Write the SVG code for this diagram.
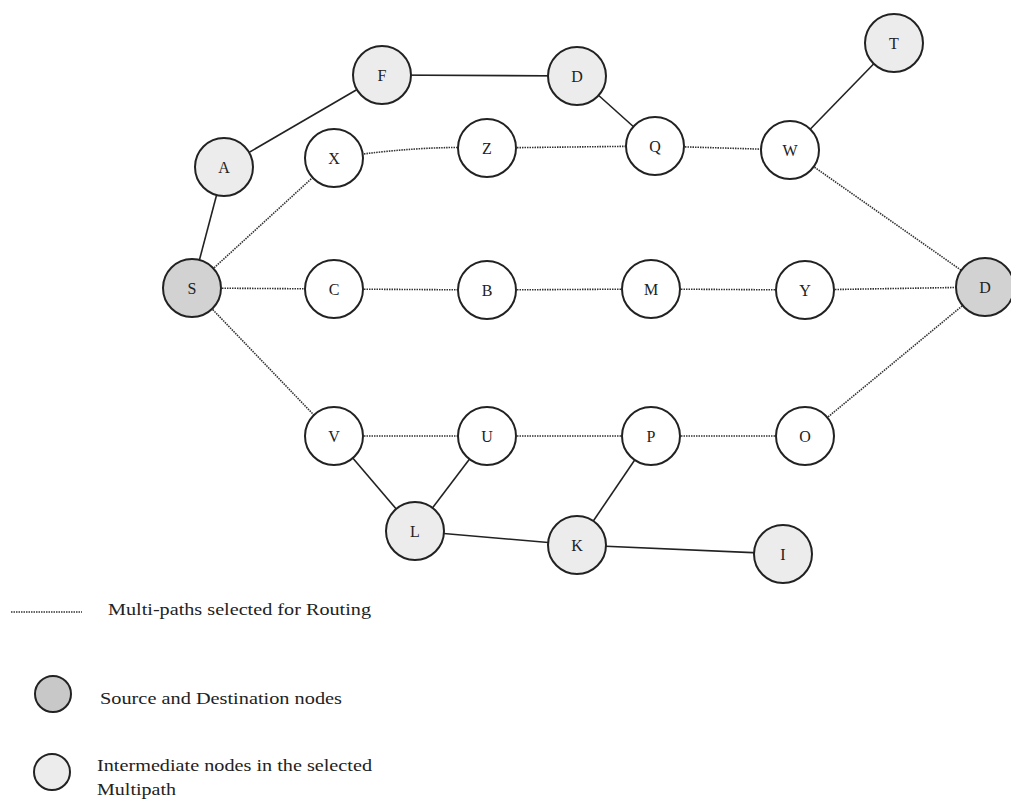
<svg xmlns="http://www.w3.org/2000/svg" width="1011" height="799" viewBox="0 0 1011 799">
<style>
.n circle{stroke:#222;stroke-width:2}
.src{fill:#d2d2d2}
.oth{fill:#ececec}
.mid{fill:#ffffff}
.lbl{font-family:"Liberation Serif",serif;font-size:16px;fill:#222;text-anchor:middle;dominant-baseline:central}
.solid{stroke:#222;stroke-width:1.6;fill:none}
.dot{stroke:#333;stroke-width:1.6;stroke-dasharray:1.5 1;fill:none}
.leg{font-family:"Liberation Serif",serif;font-size:17px;fill:#222}
</style>
<rect width="1011" height="799" fill="#fff"/>
<g id="connectors">
<line class="solid" x1="224" y1="167" x2="382" y2="75"/>
<line class="solid" x1="382" y1="75" x2="577" y2="76"/>
<line class="solid" x1="577" y1="76" x2="655" y2="146"/>
<line class="solid" x1="894" y1="43" x2="790" y2="150"/>
<line class="solid" x1="192" y1="288" x2="224" y2="167"/>
<line class="solid" x1="334" y1="436" x2="415" y2="531"/>
<line class="solid" x1="415" y1="531" x2="487" y2="436"/>
<line class="solid" x1="415" y1="531" x2="577" y2="545"/>
<line class="solid" x1="577" y1="545" x2="651" y2="436"/>
<line class="solid" x1="577" y1="545" x2="783" y2="554"/>
<line class="dot" x1="192" y1="288" x2="334" y2="158"/>
<path class="dot" d="M334,158 Q420,145 487,148"/>
<line class="dot" x1="487" y1="148" x2="655" y2="146"/>
<line class="dot" x1="655" y1="146" x2="790" y2="150"/>
<line class="dot" x1="790" y1="150" x2="985" y2="287"/>
<line class="dot" x1="192" y1="288" x2="334" y2="289"/>
<line class="dot" x1="334" y1="289" x2="487" y2="290"/>
<line class="dot" x1="487" y1="290" x2="651" y2="289"/>
<line class="dot" x1="651" y1="289" x2="805" y2="290"/>
<line class="dot" x1="805" y1="290" x2="985" y2="287"/>
<line class="dot" x1="192" y1="288" x2="334" y2="436"/>
<line class="dot" x1="334" y1="436" x2="487" y2="436"/>
<line class="dot" x1="487" y1="436" x2="651" y2="436"/>
<line class="dot" x1="651" y1="436" x2="805" y2="436"/>
<line class="dot" x1="805" y1="436" x2="985" y2="287"/>
</g>
<g id="node-T" class="n"><circle class="oth" cx="894" cy="43" r="29"/><text class="lbl" x="894" y="43">T</text></g>
<g id="node-F" class="n"><circle class="oth" cx="382" cy="75" r="29"/><text class="lbl" x="382" y="75">F</text></g>
<g id="node-D1" class="n"><circle class="oth" cx="577" cy="76" r="29"/><text class="lbl" x="577" y="76">D</text></g>
<g id="node-A" class="n"><circle class="oth" cx="224" cy="167" r="29"/><text class="lbl" x="224" y="167">A</text></g>
<g id="node-X" class="n"><circle class="mid" cx="334" cy="158" r="29"/><text class="lbl" x="334" y="158">X</text></g>
<g id="node-Z" class="n"><circle class="mid" cx="487" cy="148" r="29"/><text class="lbl" x="487" y="148">Z</text></g>
<g id="node-Q" class="n"><circle class="mid" cx="655" cy="146" r="29"/><text class="lbl" x="655" y="146">Q</text></g>
<g id="node-W" class="n"><circle class="mid" cx="790" cy="150" r="29"/><text class="lbl" x="790" y="150">W</text></g>
<g id="node-S" class="n"><circle class="src" cx="192" cy="288" r="29"/><text class="lbl" x="192" y="288">S</text></g>
<g id="node-C" class="n"><circle class="mid" cx="334" cy="289" r="29"/><text class="lbl" x="334" y="289">C</text></g>
<g id="node-B" class="n"><circle class="mid" cx="487" cy="290" r="29"/><text class="lbl" x="487" y="290">B</text></g>
<g id="node-M" class="n"><circle class="mid" cx="651" cy="289" r="29"/><text class="lbl" x="651" y="289">M</text></g>
<g id="node-Y" class="n"><circle class="mid" cx="805" cy="290" r="29"/><text class="lbl" x="805" y="290">Y</text></g>
<g id="node-D2" class="n"><circle class="src" cx="985" cy="287" r="29"/><text class="lbl" x="985" y="287">D</text></g>
<g id="node-V" class="n"><circle class="mid" cx="334" cy="436" r="29"/><text class="lbl" x="334" y="436">V</text></g>
<g id="node-U" class="n"><circle class="mid" cx="487" cy="436" r="29"/><text class="lbl" x="487" y="436">U</text></g>
<g id="node-P" class="n"><circle class="mid" cx="651" cy="436" r="29"/><text class="lbl" x="651" y="436">P</text></g>
<g id="node-O" class="n"><circle class="mid" cx="805" cy="436" r="29"/><text class="lbl" x="805" y="436">O</text></g>
<g id="node-L" class="n"><circle class="oth" cx="415" cy="531" r="29"/><text class="lbl" x="415" y="531">L</text></g>
<g id="node-K" class="n"><circle class="oth" cx="577" cy="545" r="29"/><text class="lbl" x="577" y="545">K</text></g>
<g id="node-I" class="n"><circle class="oth" cx="783" cy="554" r="29"/><text class="lbl" x="783" y="554">I</text></g>
<g id="legend">
<line class="dot" x1="11" y1="612" x2="82" y2="612"/>
<text class="leg" x="108" y="615" textLength="263" lengthAdjust="spacingAndGlyphs">Multi-paths selected for Routing</text>
<circle cx="53" cy="694" r="18" fill="#c8c8c8" stroke="#222" stroke-width="2"/>
<text class="leg" x="100" y="704" textLength="242" lengthAdjust="spacingAndGlyphs">Source and Destination nodes</text>
<circle cx="52" cy="772" r="18" fill="#ececec" stroke="#222" stroke-width="2"/>
<text class="leg" x="97" y="771" textLength="275" lengthAdjust="spacingAndGlyphs">Intermediate nodes in the selected</text>
<text class="leg" x="97" y="795" textLength="79" lengthAdjust="spacingAndGlyphs">Multipath</text>
</g>
</svg>
